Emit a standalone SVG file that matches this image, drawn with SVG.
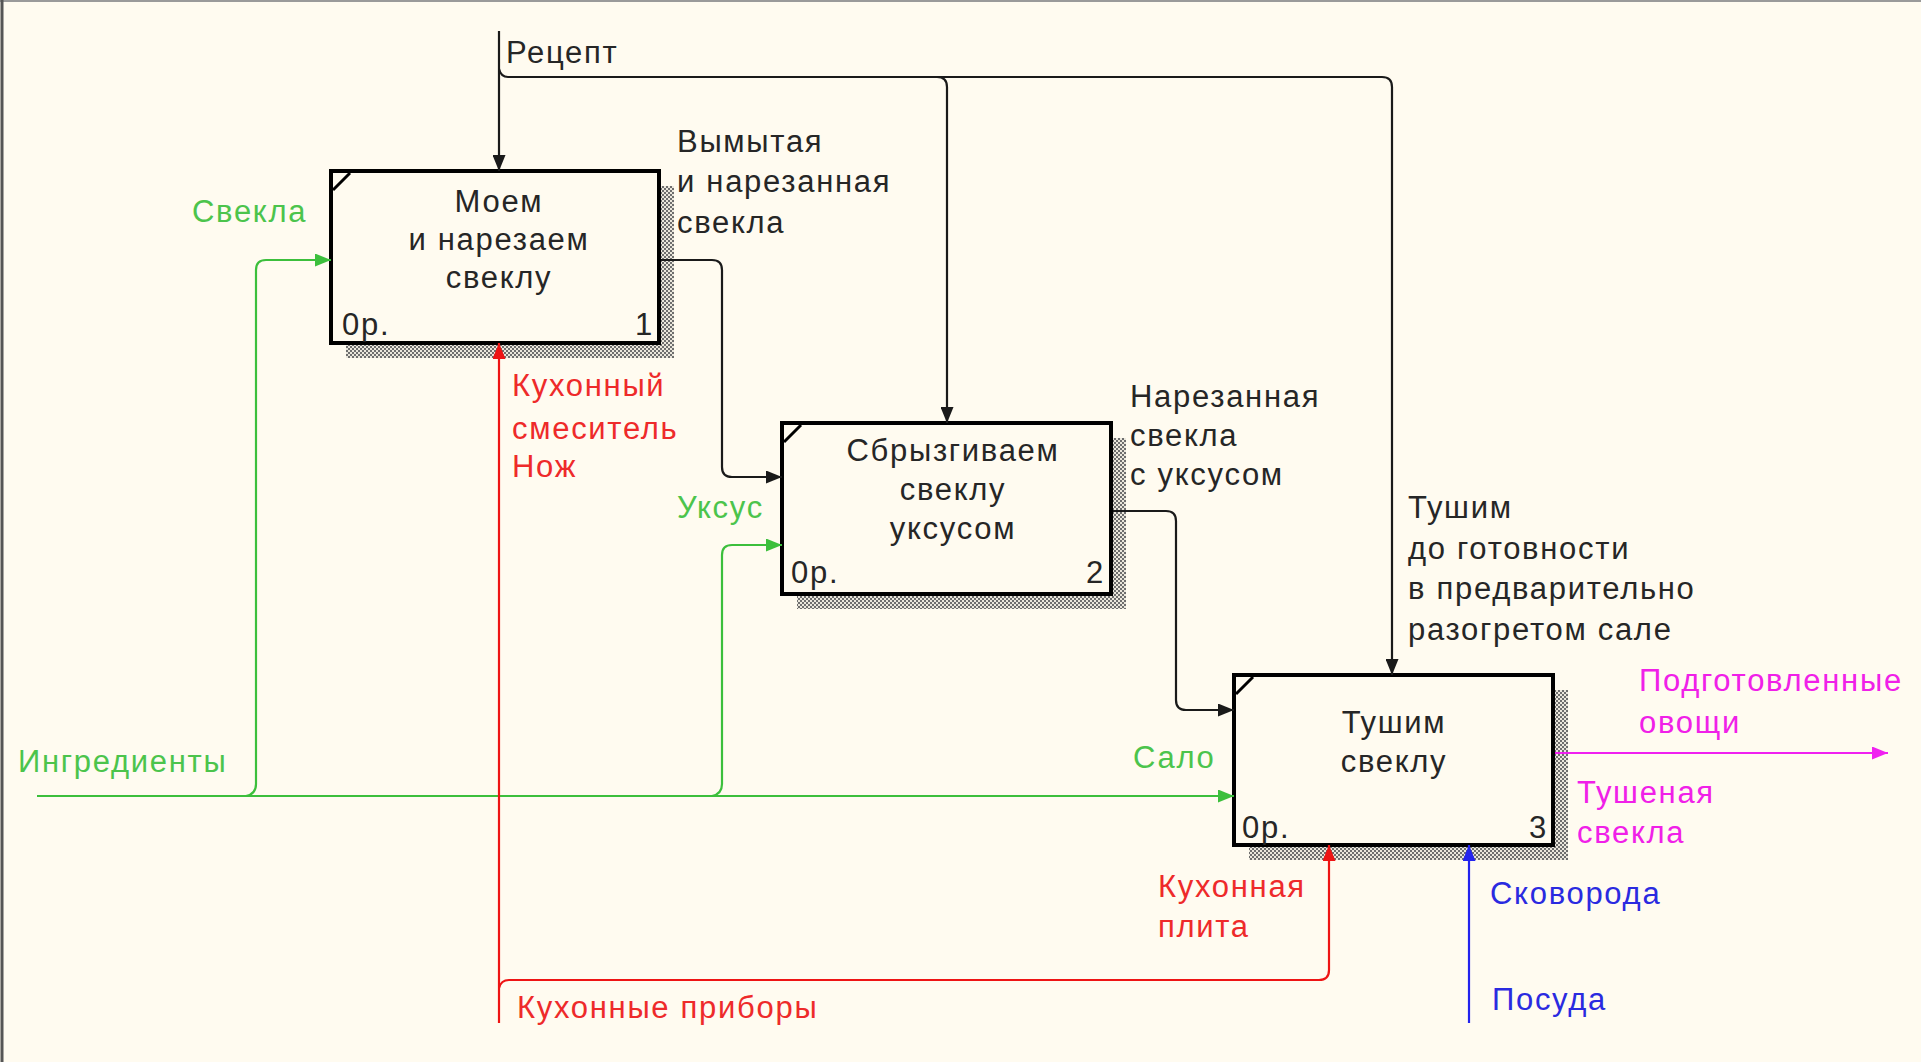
<svg xmlns="http://www.w3.org/2000/svg" width="1921" height="1062" viewBox="0 0 1921 1062">
<style>
text{font-family:"Liberation Sans",Arial,sans-serif;font-size:31px;letter-spacing:1.7px}
.k{fill:#262626}.g{fill:#4cc44c}.r{fill:#ee2a2a}.m{fill:#f020e8}.b{fill:#2a2ae0}
.c{text-anchor:middle}.e{text-anchor:end}
.box{fill:#fffbf0;stroke:#000;stroke-width:4}
.sh{fill:url(#hatch)}
.lk{fill:none;stroke:#1a1a1a;stroke-width:2.2}
.lg{fill:none;stroke:#3cbf3c;stroke-width:2.2}
.lr{fill:none;stroke:#ee1414;stroke-width:2.2}
.lm{fill:none;stroke:#f020f0;stroke-width:2.2}
.lb{fill:none;stroke:#2323ee;stroke-width:2.2}
</style>
<defs>
<pattern id="hatch" width="4" height="4" patternUnits="userSpaceOnUse">
<rect width="4" height="4" fill="#ebe7dc"/>
<rect x="0" y="0" width="2" height="2" fill="#6e6e6e"/>
<rect x="2" y="2" width="2" height="2" fill="#6e6e6e"/>
</pattern>
<marker id="ak" markerWidth="16" markerHeight="13" refX="16" refY="6.5" orient="auto" markerUnits="userSpaceOnUse"><path d="M0,0 L16,6.5 L0,13 z" fill="#1a1a1a"/></marker>
<marker id="ag" markerWidth="16" markerHeight="13" refX="16" refY="6.5" orient="auto" markerUnits="userSpaceOnUse"><path d="M0,0 L16,6.5 L0,13 z" fill="#3cbf3c"/></marker>
<marker id="ar" markerWidth="16" markerHeight="13" refX="16" refY="6.5" orient="auto" markerUnits="userSpaceOnUse"><path d="M0,0 L16,6.5 L0,13 z" fill="#ee1414"/></marker>
<marker id="am" markerWidth="16" markerHeight="13" refX="16" refY="6.5" orient="auto" markerUnits="userSpaceOnUse"><path d="M0,0 L16,6.5 L0,13 z" fill="#f020f0"/></marker>
<marker id="ab" markerWidth="16" markerHeight="13" refX="16" refY="6.5" orient="auto" markerUnits="userSpaceOnUse"><path d="M0,0 L16,6.5 L0,13 z" fill="#2323ee"/></marker>
</defs>
<rect width="1921" height="1062" fill="#fffbf0"/>
<line x1="0" y1="1" x2="1921" y2="1" stroke="#9a9a9a" stroke-width="2"/>
<line x1="2" y1="0" x2="2" y2="1062" stroke="#555" stroke-width="3"/>

<g id="box1">
<rect class="sh" x="346" y="186" width="328" height="172"/>
<rect class="box" x="331" y="171" width="328" height="172"/>
<path d="M333,190 L350,173" stroke="#000" stroke-width="3"/>
<text class="k c" x="499" y="212">Моем</text>
<text class="k c" x="499" y="250">и нарезаем</text>
<text class="k c" x="499" y="288">свеклу</text>
<text class="k" x="342" y="335">0р.</text>
<text class="k e" x="654" y="335">1</text>
</g>

<g id="box2">
<rect class="sh" x="797" y="438" width="329" height="171"/>
<rect class="box" x="782" y="423" width="329" height="171"/>
<path d="M784,442 L801,425" stroke="#000" stroke-width="3"/>
<text class="k c" x="953" y="461">Сбрызгиваем</text>
<text class="k c" x="953" y="500">свеклу</text>
<text class="k c" x="953" y="539">уксусом</text>
<text class="k" x="791" y="583">0р.</text>
<text class="k e" x="1105" y="583">2</text>
</g>

<g id="box3">
<rect class="sh" x="1249" y="690" width="319" height="170"/>
<rect class="box" x="1234" y="675" width="319" height="170"/>
<path d="M1236,694 L1253,677" stroke="#000" stroke-width="3"/>
<text class="k c" x="1394" y="733">Тушим</text>
<text class="k c" x="1394" y="772">свеклу</text>
<text class="k" x="1242" y="838">0р.</text>
<text class="k e" x="1548" y="838">3</text>
</g>

<g id="connectors">
<path class="lk" d="M499,31 V171" marker-end="url(#ak)"/>
<path class="lk" d="M499,69 Q501,77 508,77 H1382 Q1392,77 1392,87 V675" marker-end="url(#ak)"/>
<path class="lk" d="M937,77 Q947,77 947,87 V423" marker-end="url(#ak)"/>
<path class="lk" d="M661,260 H712 Q722,260 722,270 V467 Q722,477 732,477 H782" marker-end="url(#ak)"/>
<path class="lk" d="M1113,511 H1166 Q1176,511 1176,521 V700 Q1176,710 1186,710 H1234" marker-end="url(#ak)"/>
<path class="lm" d="M1555,753 H1888" marker-end="url(#am)"/>
<path class="lg" d="M37,796 H1234" marker-end="url(#ag)"/>
<path class="lg" d="M246,796 Q256,794 256,784 V270 Q256,260 266,260 H331" marker-end="url(#ag)"/>
<path class="lg" d="M712,796 Q722,794 722,784 V555 Q722,545 732,545 H782" marker-end="url(#ag)"/>
<path class="lr" d="M499,1023 V343" marker-end="url(#ar)"/>
<path class="lr" d="M499,988 Q501,980 509,980 H1319 Q1329,980 1329,970 V845" marker-end="url(#ar)"/>
<path class="lb" d="M1469,1023 V845" marker-end="url(#ab)"/>
</g>

<g id="labels">
<text class="k" x="506" y="63">Рецепт</text>
<text class="k" x="677" y="152">Вымытая</text>
<text class="k" x="677" y="192">и нарезанная</text>
<text class="k" x="677" y="233">свекла</text>
<text class="g" x="192" y="222">Свекла</text>
<text class="r" x="512" y="396">Кухонный</text>
<text class="r" x="512" y="439">смеситель</text>
<text class="r" x="512" y="477">Нож</text>
<text class="g" x="677" y="518">Уксус</text>
<text class="k" x="1130" y="407">Нарезанная</text>
<text class="k" x="1130" y="446">свекла</text>
<text class="k" x="1130" y="485">с уксусом</text>
<text class="k" x="1408" y="518">Тушим</text>
<text class="k" x="1408" y="559">до готовности</text>
<text class="k" x="1408" y="599">в предварительно</text>
<text class="k" x="1408" y="640">разогретом сале</text>
<text class="m" x="1639" y="691">Подготовленные</text>
<text class="m" x="1639" y="733">овощи</text>
<text class="m" x="1577" y="803">Тушеная</text>
<text class="m" x="1577" y="843">свекла</text>
<text class="g" x="1133" y="768">Сало</text>
<text class="g" x="18" y="772">Ингредиенты</text>
<text class="r" x="1158" y="897">Кухонная</text>
<text class="r" x="1158" y="937">плита</text>
<text class="b" x="1490" y="904">Сковорода</text>
<text class="b" x="1492" y="1010">Посуда</text>
<text class="r" x="517" y="1018">Кухонные приборы</text>
</g>
</svg>
